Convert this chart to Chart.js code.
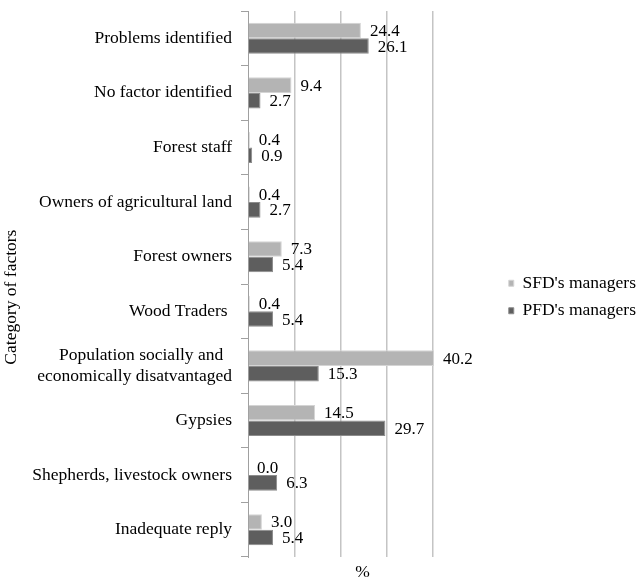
<!DOCTYPE html>
<html>
<head>
<meta charset="utf-8">
<script src="https://cdn.jsdelivr.net/npm/chart.js@4/dist/chart.umd.min.js"></script>
<style>
html,body{margin:0;padding:0;background:#fff;font-family:"Liberation Serif",serif;}
#wrap{width:636px;height:580px;position:relative;overflow:hidden;}
#probe{position:absolute;left:-1000px;top:0;font-family:"Liberation Serif";}
</style>
</head>
<body>
<span id="probe">Abc 0.4</span>
<div id="wrap"><canvas id="c" width="636" height="580"></canvas></div>
<script>
const categories = [
  "Problems identified",
  "No factor identified",
  "Forest staff",
  "Owners of agricultural land",
  "Forest owners",
  "Wood Traders ",
  ["Population socially and  ", "economically disatvantaged"],
  "Gypsies",
  "Shepherds, livestock owners",
  "Inadequate reply"
];
const sfdValues = [24.4, 9.4, 0.4, 0.4, 7.3, 0.4, 40.2, 14.5, 0.0, 3.0];
const pfdValues = [26.1, 2.7, 0.9, 2.7, 5.4, 5.4, 15.3, 29.7, 6.3, 5.4];
const seriesNames = ["SFD's managers", "PFD's managers"];
const gridValues = [10, 20, 30, 40, 50];

const FONT = '"Liberation Serif", "Times New Roman", Times, serif';

const valueLabels = {
  id: 'valueLabels',
  afterDatasetsDraw(chart) {
    const ctx = chart.ctx;
    ctx.save();
    ctx.font = "17px " + FONT;
    ctx.fillStyle = "#000";
    ctx.textBaseline = "middle";
    ctx.textAlign = "left";
    chart.data.datasets.forEach((ds, i) => {
      const meta = chart.getDatasetMeta(i);
      meta.data.forEach((bar, j) => {
        ctx.fillText(ds.data[j].toFixed(1), bar.x + 9, bar.y + 1);
      });
    });
    ctx.restore();
  }
};

function build() {
  Chart.defaults.font.family = FONT;
  new Chart(document.getElementById('c'), {
    type: 'bar',
    data: {
      labels: categories,
      datasets: [
        { label: seriesNames[0], data: sfdValues, backgroundColor: '#b4b4b4', borderColor: '#d4d4d4', borderWidth: 1,
          categoryPercentage: 0.57, barPercentage: 1.0 },
        { label: seriesNames[1], data: pfdValues, backgroundColor: '#5e5e5e', borderColor: '#8c8c8c', borderWidth: 1,
          categoryPercentage: 0.57, barPercentage: 1.0 }
      ]
    },
    options: {
      indexAxis: 'y',
      responsive: false,
      animation: false,
      layout: { padding: { top: 11, left: 0, right: -10, bottom: -3 } },
      plugins: {
        legend: {
          position: 'right',
          align: 'center',
          labels: {
            boxWidth: 5, boxHeight: 6, padding: 10,
            color: '#000',
            font: { family: FONT, size: 17.5 }
          }
        },
        tooltip: { enabled: false }
      },
      scales: {
        x: {
          min: 0, max: 54.2,
          ticks: { display: false, stepSize: 10 },
          grid: {
            color: (c) => (c.tick && gridValues.includes(c.tick.value)) ? '#c4c4c4' : 'rgba(0,0,0,0)',
            lineWidth: 1.5,
            drawTicks: false
          },
          border: { display: false },
          title: { display: true, text: '%     ', color: '#000', font: { family: FONT, size: 17.5 }, padding: { top: 5, bottom: 0 } }
        },
        y: {
          afterFit: (s) => { s.width = 248; s.paddingTop = 0; s.paddingBottom = 0; },
          ticks: { color: '#000', font: { family: FONT, size: 17.5 }, padding: 9, autoSkip: false },
          grid: { drawOnChartArea: false, drawTicks: true, tickLength: 7, color: '#a0a0a0', offset: true },
          border: { display: true, color: '#a0a0a0', width: 1 },
          title: { display: true, text: 'Category of factors      ', color: '#000', font: { family: FONT, size: 17.5 }, padding: { top: 1, bottom: 2 } }
        }
      }
    },
    plugins: [valueLabels]
  });
}

if (document.fonts && document.fonts.load) {
  Promise.all([
    document.fonts.load('17px "Liberation Serif"'),
    document.fonts.load('17.5px "Liberation Serif"')
  ]).then(build, build);
} else {
  build();
}
</script>
</body>
</html>
